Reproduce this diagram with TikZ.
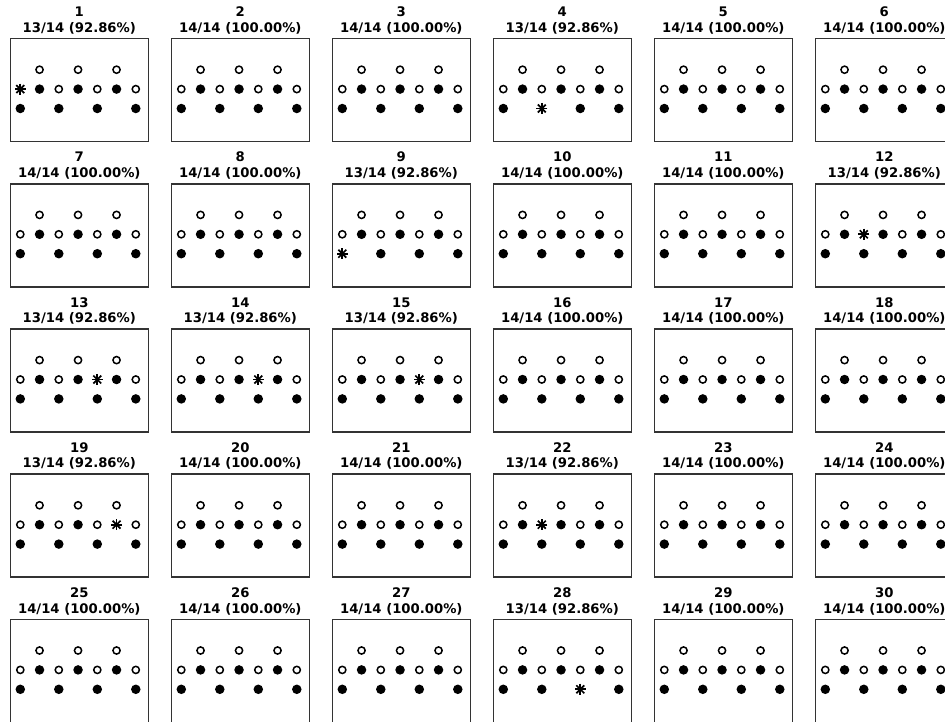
\documentclass[tikz,border=0pt]{standalone}
\usepackage{fontspec}
\setmainfont{DejaVu Sans}
\def\nomiss{none}
\begin{document}
\begin{tikzpicture}[
    x=1pt, y=-1pt,
    panelbox/.style={rectangle, draw=black!80, line width=1.6pt, minimum width=138pt, minimum height=103pt, inner sep=0pt, anchor=north west},
    ringdot/.style={circle, draw, line width=1.5pt, minimum size=7.2pt, inner sep=0pt},
    fulldot/.style={circle, fill, minimum size=9.5pt, inner sep=0pt},
    starmark/.style={circle, minimum size=14pt, inner sep=0pt, path picture={
        \foreach \a in {0,45,90,135}
            \draw[line width=1.7pt] ([shift={(\a:5.6pt)}]path picture bounding box.center) -- ([shift={(\a+180:5.6pt)}]path picture bounding box.center);
    }},
    headline/.style={font=\bfseries\fontsize{13.2}{15}\selectfont, anchor=base, inner sep=0pt}
]
    \path[use as bounding box, clip] (0,0) rectangle (945,721);
    \fill[white] (0,0) rectangle (945,721);
    % one panel per run, the marker that was missed drawn as a star
    \foreach \n/\miss in {1/m0, 2/none, 3/none, 4/b2, 5/none, 6/none, 7/none, 8/none, 9/b0, 10/none,
        11/none, 12/m2, 13/m4, 14/m4, 15/m4, 16/none, 17/none, 18/none, 19/m5, 20/none,
        21/none, 22/m2, 23/none, 24/none, 25/none, 26/none, 27/none, 28/b4, 29/none, 30/none}
    {
        \pgfmathtruncatemacro{\col}{mod(\n-1,6)}
        \pgfmathtruncatemacro{\row}{div(\n-1,6)}
        \pgfmathsetmacro{\bx}{9.5+161*\col}
        \pgfmathsetmacro{\by}{37.7+145.2*\row}
        \node [panelbox] (panel\n) at (\bx,\by) {};
        \node [headline] (num\n) at ([yshift=21pt]panel\n.north) {\n};
        \node [headline] (score\n) at ([yshift=5.4pt]panel\n.north)
            {\ifx\miss\nomiss 14/14 (100.00\%)\else 13/14 (92.86\%)\fi};
        \foreach \tag/\i/\j/\kind in {t1/1/0/ringdot, t3/3/0/ringdot, t5/5/0/ringdot,
            m0/0/1/ringdot, m1/1/1/fulldot, m2/2/1/ringdot, m3/3/1/fulldot, m4/4/1/ringdot, m5/5/1/fulldot, m6/6/1/ringdot,
            b0/0/2/fulldot, b2/2/2/fulldot, b4/4/2/fulldot, b6/6/2/fulldot}
        {
            \ifx\tag\miss
                \node [starmark] (p\n\tag) at (\bx+10.8+19.25*\i, \by+32+19.4*\j) {};
            \else
                \node [\kind] (p\n\tag) at (\bx+10.8+19.25*\i, \by+32+19.4*\j) {};
            \fi
        }
    }
\end{tikzpicture}
\end{document}
